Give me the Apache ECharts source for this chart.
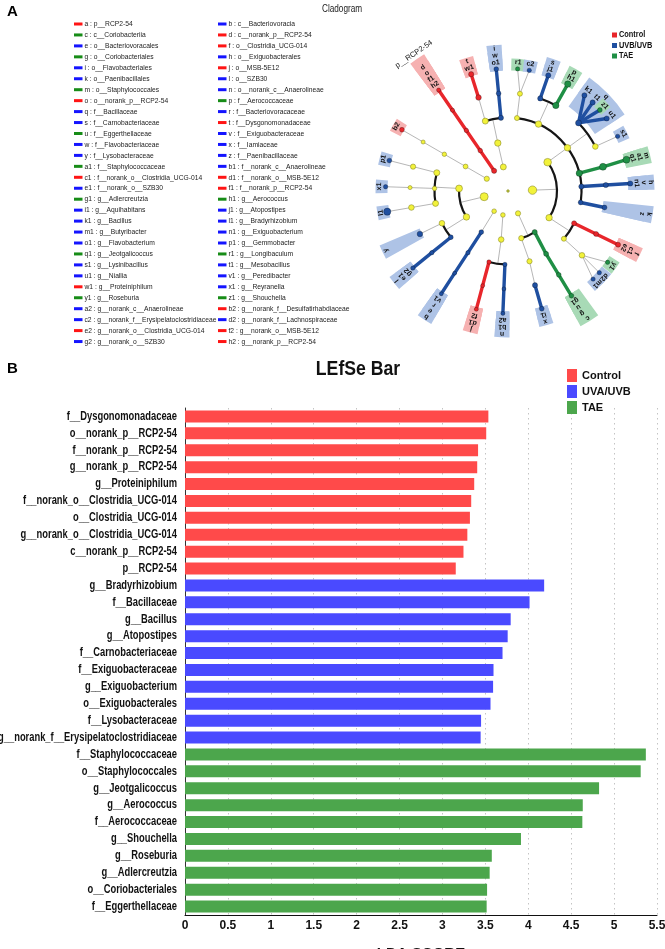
<!DOCTYPE html>
<html>
<head>
<meta charset="utf-8">
<script src="https://cdn.jsdelivr.net/npm/echarts@6/dist/echarts.min.js"></script>
<style>
  html, body { margin: 0; padding: 0; background: #fff; }
  #main { width: 665px; height: 949px; }
</style>
</head>
<body>
<div id="main"></div>
<script>
// no narrow face is installed, so Arial-metric text is squeezed with scaleX
var SANS = "'Liberation Sans', Arial, sans-serif";

// ---- panel B : LDA scores ----
var controlNames = ['f__Dysgonomonadaceae', 'o__norank_p__RCP2-54', 'f__norank_p__RCP2-54', 'g__norank_p__RCP2-54',
  'g__Proteiniphilum', 'f__norank_o__Clostridia_UCG-014', 'o__Clostridia_UCG-014', 'g__norank_o__Clostridia_UCG-014',
  'c__norank_p__RCP2-54', 'p__RCP2-54'];
var controlScores = [3.535, 3.51, 3.415, 3.405, 3.37, 3.335, 3.32, 3.29, 3.245, 3.155];

var uvNames = ['g__Bradyrhizobium', 'f__Bacillaceae', 'g__Bacillus', 'g__Atopostipes', 'f__Carnobacteriaceae',
  'f__Exiguobacteraceae', 'g__Exiguobacterium', 'o__Exiguobacterales', 'f__Lysobacteraceae',
  'g__norank_f__Erysipelatoclostridiaceae'];
var uvScores = [4.185, 4.015, 3.795, 3.76, 3.70, 3.595, 3.59, 3.56, 3.45, 3.445];

var taeNames = ['f__Staphylococcaceae', 'o__Staphylococcales', 'g__Jeotgalicoccus', 'g__Aerococcus', 'f__Aerococcaceae',
  'g__Shouchella', 'g__Roseburia', 'g__Adlercreutzia', 'o__Coriobacteriales', 'f__Eggerthellaceae'];
var taeScores = [5.37, 5.31, 4.825, 4.635, 4.63, 3.915, 3.575, 3.55, 3.52, 3.515];

var ldaTicks = [0, 5.5, 0.5];   // min, max, step

// ---- panel A : cladogram key (letter, taxon, group) ----
var cladeKey = [
  ['a', 'p__RCP2-54', 'C'], ['b', 'c__Bacteriovoracia', 'U'],
  ['c', 'c__Coriobacteriia', 'T'], ['d', 'c__norank_p__RCP2-54', 'C'],
  ['e', 'o__Bacteriovoracales', 'U'], ['f', 'o__Clostridia_UCG-014', 'C'],
  ['g', 'o__Coriobacteriales', 'T'], ['h', 'o__Exiguobacterales', 'U'],
  ['i', 'o__Flavobacteriales', 'U'], ['j', 'o__MSB-5E12', 'C'],
  ['k', 'o__Paenibacillales', 'U'], ['l', 'o__SZB30', 'U'],
  ['m', 'o__Staphylococcales', 'T'], ['n', 'o__norank_c__Anaerolineae', 'U'],
  ['o', 'o__norank_p__RCP2-54', 'C'], ['p', 'f__Aerococcaceae', 'T'],
  ['q', 'f__Bacillaceae', 'U'], ['r', 'f__Bacteriovoracaceae', 'U'],
  ['s', 'f__Carnobacteriaceae', 'U'], ['t', 'f__Dysgonomonadaceae', 'C'],
  ['u', 'f__Eggerthellaceae', 'T'], ['v', 'f__Exiguobacteraceae', 'U'],
  ['w', 'f__Flavobacteriaceae', 'U'], ['x', 'f__Iamiaceae', 'U'],
  ['y', 'f__Lysobacteraceae', 'U'], ['z', 'f__Paenibacillaceae', 'U'],
  ['a1', 'f__Staphylococcaceae', 'T'], ['b1', 'f__norank_c__Anaerolineae', 'U'],
  ['c1', 'f__norank_o__Clostridia_UCG-014', 'C'], ['d1', 'f__norank_o__MSB-5E12', 'C'],
  ['e1', 'f__norank_o__SZB30', 'U'], ['f1', 'f__norank_p__RCP2-54', 'C'],
  ['g1', 'g__Adlercreutzia', 'T'], ['h1', 'g__Aerococcus', 'T'],
  ['i1', 'g__Aquihabitans', 'U'], ['j1', 'g__Atopostipes', 'U'],
  ['k1', 'g__Bacillus', 'U'], ['l1', 'g__Bradyrhizobium', 'U'],
  ['m1', 'g__Butyribacter', 'U'], ['n1', 'g__Exiguobacterium', 'U'],
  ['o1', 'g__Flavobacterium', 'U'], ['p1', 'g__Gemmobacter', 'U'],
  ['q1', 'g__Jeotgalicoccus', 'T'], ['r1', 'g__Longibaculum', 'T'],
  ['s1', 'g__Lysinibacillus', 'U'], ['t1', 'g__Mesobacillus', 'U'],
  ['u1', 'g__Niallia', 'U'], ['v1', 'g__Peredibacter', 'U'],
  ['w1', 'g__Proteiniphilum', 'C'], ['x1', 'g__Reyranella', 'U'],
  ['y1', 'g__Roseburia', 'T'], ['z1', 'g__Shouchella', 'T'],
  ['a2', 'g__norank_c__Anaerolineae', 'U'], ['b2', 'g__norank_f__Desulfatirhabdiaceae', 'C'],
  ['c2', 'g__norank_f__Erysipelatoclostridiaceae', 'U'], ['d2', 'g__norank_f__Lachnospiraceae', 'U'],
  ['e2', 'g__norank_o__Clostridia_UCG-014', 'C'], ['f2', 'g__norank_o__MSB-5E12', 'C'],
  ['g2', 'g__norank_o__SZB30', 'U'], ['h2', 'g__norank_p__RCP2-54', 'C']
];
var cladeGroups = [['C', 'Control'], ['U', 'UVB/UVB'], ['T', 'TAE']];

// radius of each taxonomic level (root, phylum ... genus)
var levelRadius = [0, 24.5, 49, 73.5, 98, 122.5];

// id, parent, level, angle (deg, counter-clockwise from east), node size
var treeNodes = [
  ['root', null, 0, 0, 1.3],
  ['a', 'root', 1, 124.5, 2.6],
  ['d', 'a', 2, 124.5, 2.3],
  ['o', 'd', 3, 124.5, 2.2],
  ['f1', 'o', 4, 124.5, 2.1],
  ['h2', 'f1', 5, 124.5, 2.1],
  ['Desulfobacterota', 'root', 1, 150, 2.6],
  ['Desulfobacteria', 'Desulfobacterota', 2, 150, 2.4],
  ['Desulfatiglandales', 'Desulfobacteria', 3, 150, 2.2],
  ['Desulfatirhabdiaceae', 'Desulfatiglandales', 4, 150, 2.0],
  ['b2', 'Desulfatirhabdiaceae', 5, 150, 2.4],
  ['Bacteroidota', 'root', 1, 101, 3.0],
  ['Bacteroidia', 'Bacteroidota', 2, 102, 3.2],
  ['Bacteroidales', 'Bacteroidia', 3, 108, 3.0],
  ['t', 'Bacteroidales', 4, 107.5, 2.8],
  ['w1', 't', 5, 107.5, 2.6],
  ['i', 'Bacteroidia', 3, 95.5, 2.6],
  ['w', 'i', 4, 95.5, 2.4],
  ['o1', 'w', 5, 95.5, 2.4],
  ['Proteobacteria', 'root', 1, 193.5, 4.0],
  ['Alphaproteobacteria', 'Proteobacteria', 2, 177, 3.4],
  ['Rhodobacterales', 'Alphaproteobacteria', 3, 165.6, 3.0],
  ['Rhodobacteraceae', 'Rhodobacterales', 4, 165.6, 2.6],
  ['p1', 'Rhodobacteraceae', 5, 165.6, 2.4],
  ['Rhodospirillales', 'Alphaproteobacteria', 3, 178, 2.2],
  ['Reyranellaceae', 'Rhodospirillales', 4, 178, 2.0],
  ['x1', 'Reyranellaceae', 5, 178, 2.2],
  ['Rhizobiales', 'Alphaproteobacteria', 3, 189.7, 3.0],
  ['Xanthobacteraceae', 'Rhizobiales', 4, 189.7, 2.8],
  ['l1', 'Xanthobacteraceae', 5, 189.7, 3.6],
  ['Gammaproteobacteria', 'Proteobacteria', 2, 212, 3.2],
  ['Xanthomonadales', 'Gammaproteobacteria', 3, 206, 2.8],
  ['y', 'Xanthomonadales', 4, 206, 2.8],
  ['l', 'Gammaproteobacteria', 3, 219, 2.4],
  ['e1', 'l', 4, 219, 2.2],
  ['g2', 'e1', 5, 219, 2.2],
  ['Bdellovibrionota', 'root', 1, 235.5, 2.3],
  ['b', 'Bdellovibrionota', 2, 237, 2.4],
  ['e', 'b', 3, 237, 2.2],
  ['r', 'e', 4, 237, 2.0],
  ['v1', 'r', 5, 237, 2.0],
  ['Chloroflexi', 'root', 1, 258, 2.3],
  ['Anaerolineae', 'Chloroflexi', 2, 262, 2.8],
  ['j', 'Anaerolineae', 3, 255, 2.2],
  ['d1', 'j', 4, 255, 2.0],
  ['f2', 'd1', 5, 255, 2.0],
  ['n', 'Anaerolineae', 3, 267.6, 2.2],
  ['b1', 'n', 4, 267.6, 2.0],
  ['a2', 'b1', 5, 267.6, 2.0],
  ['Actinobacteriota', 'root', 1, 294.2, 2.6],
  ['Acidimicrobiia', 'Actinobacteriota', 2, 285.7, 2.6],
  ['Microtrichales', 'Acidimicrobiia', 3, 287, 2.6],
  ['x', 'Microtrichales', 4, 286, 2.6],
  ['i1', 'x', 5, 286, 2.4],
  ['c', 'Actinobacteriota', 2, 303, 2.6],
  ['g', 'c', 3, 301.2, 2.5],
  ['u', 'g', 4, 301.2, 2.4],
  ['g1', 'u', 5, 301.2, 2.4],
  ['Firmicutes', 'root', 1, 2, 4.2],
  ['Bacilli', 'Firmicutes', 2, 36, 3.8],
  ['Erysipelotrichales', 'Bacilli', 3, 83, 2.5],
  ['Erysipelotrichaceae', 'Erysipelotrichales', 4, 83, 2.5],
  ['r1', 'Erysipelotrichaceae', 5, 85.5, 2.2],
  ['c2', 'Erysipelotrichaceae', 5, 80, 2.2],
  ['Lactobacillales', 'Bacilli', 3, 65.5, 3.2],
  ['s', 'Lactobacillales', 4, 70.8, 2.6],
  ['j1', 's', 5, 70.8, 2.6],
  ['p', 'Lactobacillales', 4, 60.8, 3.2],
  ['h1', 'p', 5, 60.8, 3.2],
  ['Bacillales', 'Bacilli', 3, 36, 3.2],
  ['q', 'Bacillales', 4, 44, 3.0],
  ['k1', 'q', 5, 51.4, 2.6],
  ['t1', 'q', 5, 46.3, 2.6],
  ['z1', 'q', 5, 41.4, 2.4],
  ['u1', 'q', 5, 36.3, 2.6],
  ['Planococcaceae', 'Bacillales', 4, 27, 2.8],
  ['s1', 'Planococcaceae', 5, 26.5, 2.2],
  ['m', 'Bacilli', 3, 14, 3.2],
  ['a1', 'm', 4, 14.3, 3.5],
  ['q1', 'a1', 5, 14.8, 3.5],
  ['h', 'Bacilli', 3, 3.5, 2.6],
  ['v', 'h', 4, 3.5, 2.6],
  ['n1', 'v', 5, 3.5, 2.6],
  ['k', 'Bacilli', 3, -9, 2.4],
  ['z', 'k', 4, -9.7, 2.4],
  ['Clostridia', 'Firmicutes', 2, -33, 3.2],
  ['f', 'Clostridia', 3, -26, 2.5],
  ['c1', 'f', 4, -26, 2.5],
  ['e2', 'c1', 5, -26, 2.5],
  ['Lachnospirales', 'Clostridia', 3, -40.5, 2.5],
  ['Lachnospiraceae', 'Lachnospirales', 4, -41, 2.8],
  ['y1', 'Lachnospiraceae', 5, -35.6, 2.2],
  ['d2', 'Lachnospiraceae', 5, -41.8, 2.2],
  ['m1', 'Lachnospiraceae', 5, -46, 2.2]
];

// ---- colours ----
var barColors = ['#ff4a4a', '#4a4aff', '#4ca64c'];
var keyColors = { C: '#ff1414', U: '#1414ff', T: '#178c17' };
var treeColors = { C: '#e8262b', U: '#1f4fa0', T: '#1f8f45' };
var shadeColors = { C: '#f6b1b1', U: '#aec3e6', T: '#a8dab6' };
var yellow = '#f2f23a';

// ---- build the tree ----
var nodes = {};
var groupOf = {}, nameOf = {};
cladeKey.forEach(function(k) { groupOf[k[0]] = k[2]; nameOf[k[0]] = k[1]; });
treeNodes.forEach(function(t) {
  nodes[t[0]] = { id: t[0], parent: t[1], level: t[2], angle: t[3], size: t[4], children: [] };
});
treeNodes.forEach(function(t) { if (t[1]) nodes[t[1]].children.push(nodes[t[0]]); });

function descend(n, out) { out.push(n); n.children.forEach(function(k) { descend(k, out); }); return out; }

treeNodes.forEach(function(t) {
  var n = nodes[t[0]];
  if (!groupOf[n.id]) return;
  var all = descend(n, []);
  var leaves = all.filter(function(d) { return d.children.length === 0; });
  var angs = all.map(function(d) { return d.angle; });
  var lo = Math.min.apply(null, angs), hi = Math.max.apply(null, angs);
  var r0 = leaves.length > 1 ? levelRadius[n.level] + 6 : levelRadius[leaves[0].level] - 2;
  var r1 = 132.5 + (5 - n.level) * 7;
  n.span = { lo: lo, hi: hi, r0: r0, r1: r1 };
});

function norm(a) { return ((a % 360) + 360) % 360; }
var RAD = Math.PI / 180;
function P(api, r, a) { return api.coord([r, norm(a)]); }
function pixR(api, r) {
  var c = P(api, 0, 0), q = P(api, r, 0);
  return Math.sqrt((q[0] - c[0]) * (q[0] - c[0]) + (q[1] - c[1]) * (q[1] - c[1]));
}

var allIds = treeNodes.map(function(t) { return t[0]; });
var markedIds = allIds.filter(function(id) { return groupOf[id]; })
  .sort(function(a, b) { return nodes[a].level - nodes[b].level; });
var edgeIds = allIds.filter(function(id) { return id !== 'root' && nodes[id].children.length; });

function drawShade(n, api) {
  var c = P(api, 0, 0), s = n.span;
  return {
    type: 'sector',
    shape: { cx: c[0], cy: c[1], r0: pixR(api, s.r0), r: pixR(api, s.r1),
      startAngle: -(s.hi + 3) * RAD, endAngle: -(s.lo - 3) * RAD, clockwise: true },
    style: { fill: shadeColors[groupOf[n.id]] }
  };
}

function drawEdges(n, api) {
  var g = groupOf[n.id];
  var col = g ? treeColors[g] : '#a3a3a3', w = g ? 3.4 : 0.8;
  var kids = n.children, els = [];
  var p0 = P(api, levelRadius[n.level], n.angle);
  function seg(a, b) {
    els.push({ type: 'line', shape: { x1: a[0], y1: a[1], x2: b[0], y2: b[1] },
      style: { stroke: col, lineWidth: w, lineCap: 'round' } });
  }
  if (kids.length === 1 || n.level >= 4) {
    kids.forEach(function(k) { seg(p0, P(api, levelRadius[k.level], k.angle)); });
  } else {
    var rc = levelRadius[n.level + 1];
    seg(p0, P(api, rc, n.angle));
    var angs = kids.map(function(k) { return k.angle; });
    var lo = Math.min.apply(null, angs), hi = Math.max.apply(null, angs);
    var c = P(api, 0, 0);
    els.push({ type: 'arc',
      shape: { cx: c[0], cy: c[1], r: pixR(api, rc), startAngle: -hi * RAD, endAngle: -lo * RAD, clockwise: true },
      style: { stroke: g ? col : '#151515', lineWidth: g ? w : 2.2, fill: 'none', lineCap: 'round' } });
  }
  return { type: 'group', children: els };
}

function drawNode(n, api) {
  var p = P(api, levelRadius[n.level], n.angle);
  var g = groupOf[n.id];
  var fill = n.id === 'root' ? '#b9c23a' : (g ? treeColors[g] : yellow);
  return { type: 'circle', shape: { cx: p[0], cy: p[1], r: n.size },
    style: { fill: fill, stroke: g ? 'rgba(0,0,0,0.45)' : '#8d8d2c', lineWidth: 0.6 } };
}

function drawLabel(n, api) {
  var s = n.span, mid = (s.lo + s.hi) / 2;
  var isPhylum = n.level === 1;
  var p = P(api, isPhylum ? 166 : s.r1 - 3.5, mid);
  return { type: 'text', x: p[0], y: p[1], rotation: (mid - 90) * RAD,
    style: { text: isPhylum ? nameOf[n.id] : n.id, fill: '#111',
      font: (isPhylum ? '7.5px ' : 'bold 7px ') + SANS,
      align: 'center', verticalAlign: 'middle' } };
}

function polarSeries(name, ids, draw, z) {
  return {
    type: 'custom', name: name, coordinateSystem: 'polar', polarIndex: 0, silent: true, z: z,
    data: ids.map(function(id) { var n = nodes[id]; return [levelRadius[n.level], norm(n.angle)]; }),
    renderItem: function(params, api) { return draw(nodes[ids[params.dataIndex]], api); }
  };
}

// ---- key list and static text ----
var graphics = [];
cladeKey.forEach(function(k, i) {
  var col = i % 2, row = Math.floor(i / 2);
  var y = 24 + row * 10.95, x = col ? 218 : 74;
  graphics.push({ type: 'rect', shape: { x: x, y: y - 1.5, width: 8.5, height: 3 }, style: { fill: keyColors[k[2]] } });
  graphics.push({ type: 'text', x: x + 10.5, y: y, scaleX: 0.84,
    style: { text: k[0] + ' : ' + k[1], font: '8px ' + SANS, fill: '#222', verticalAlign: 'middle' } });
});
cladeGroups.forEach(function(g, i) {
  var y = 35 + i * 10.5;
  graphics.push({ type: 'rect', shape: { x: 612, y: y - 2.5, width: 5, height: 5 }, style: { fill: treeColors[g[0]] } });
  graphics.push({ type: 'text', x: 619, y: y, scaleX: 0.82,
    style: { text: g[1], font: 'bold 9px ' + SANS, fill: '#111', verticalAlign: 'middle' } });
});
graphics.push({ type: 'text', x: 7, y: 4, style: { text: 'A', font: 'bold 15px ' + SANS, fill: '#000' } });
graphics.push({ type: 'text', x: 7, y: 361, style: { text: 'B', font: 'bold 15px ' + SANS, fill: '#000' } });
graphics.push({ type: 'text', x: 322, y: 4, scaleX: 0.82, style: { text: 'Cladogram', font: '10px ' + SANS, fill: '#222' } });
graphics.push({ type: 'text', x: 358, y: 369, scaleX: 0.84,
  style: { text: 'LEfSe Bar', font: 'bold 21px ' + SANS, fill: '#111', align: 'center', verticalAlign: 'middle' } });

// ---- bar series ----
var categories = controlNames.concat(uvNames, taeNames);
function placed(values, offset) {
  return categories.map(function(c, i) {
    var j = i - offset;
    return j >= 0 && j < values.length ? values[j] : '-';
  });
}
var barSets = [
  ['Control', controlScores, 0],
  ['UVA/UVB', uvScores, controlNames.length],
  ['TAE', taeScores, controlNames.length + uvNames.length]
];
var barSeries = barSets.map(function(b, i) {
  return { type: 'bar', name: b[0], stack: 'lda', data: placed(b[1], b[2]), barWidth: 12,
    itemStyle: { color: barColors[i] }, silent: true };
});

// category names, drawn through the y axis but squeezed like a narrow face
var nameSeries = {
  type: 'custom', name: 'names', coordinateSystem: 'cartesian2d', silent: true, clip: false,
  data: categories.map(function(c, i) { return [0, i]; }),
  renderItem: function(params, api) {
    var p = api.coord([0, api.value(1)]);
    return { type: 'text', x: p[0] - 8, y: p[1], scaleX: 0.78,
      style: { text: categories[params.dataIndex], font: 'bold 12px ' + SANS, fill: '#111',
        align: 'right', verticalAlign: 'middle' } };
  }
};

var chart = echarts.init(document.getElementById('main'));
chart.setOption({
  animation: false,
  backgroundColor: '#fff',
  graphic: { elements: graphics },
  legend: {
    data: ['Control', 'UVA/UVB', 'TAE'], orient: 'vertical', left: 567, top: 369,
    itemWidth: 10, itemHeight: 13, itemGap: 3, padding: 0, icon: 'rect', selectedMode: false,
    textStyle: { fontFamily: SANS, fontWeight: 'bold', fontSize: 11, color: '#111' }
  },
  grid: { left: 185, right: 8, top: 408, bottom: 34, containLabel: false, outerBoundsMode: 'none' },
  xAxis: {
    type: 'value', min: ldaTicks[0], max: ldaTicks[1], interval: ldaTicks[2],
    name: 'LDA SCORE', nameLocation: 'middle', nameGap: 31,
    nameTextStyle: { fontFamily: SANS, fontWeight: 'bold', fontSize: 15, color: '#111' },
    axisLine: { show: true, lineStyle: { color: '#111', width: 1 } },
    axisTick: { show: false },
    axisLabel: { fontFamily: SANS, fontWeight: 'bold', fontSize: 12, color: '#111', margin: 5 },
    splitLine: { show: true, lineStyle: { color: '#c4c4c4', type: [1.5, 3.5], width: 1 } }
  },
  yAxis: {
    type: 'category', data: categories, inverse: true,
    axisLine: { show: true, lineStyle: { color: '#333', width: 1 } },
    axisTick: { show: false },
    axisLabel: { show: false },
    splitLine: { show: false }
  },
  polar: { center: [508, 191], radius: 170 },
  radiusAxis: { type: 'value', min: 0, max: 170, show: false },
  angleAxis: { type: 'value', min: 0, max: 360, startAngle: 0, clockwise: false, show: false },
  series: barSeries.concat([
    nameSeries,
    polarSeries('shade', markedIds, drawShade, 1),
    polarSeries('branches', edgeIds, drawEdges, 2),
    polarSeries('nodes', allIds, drawNode, 3),
    polarSeries('labels', markedIds, drawLabel, 4)
  ])
});
</script>
</body>
</html>
